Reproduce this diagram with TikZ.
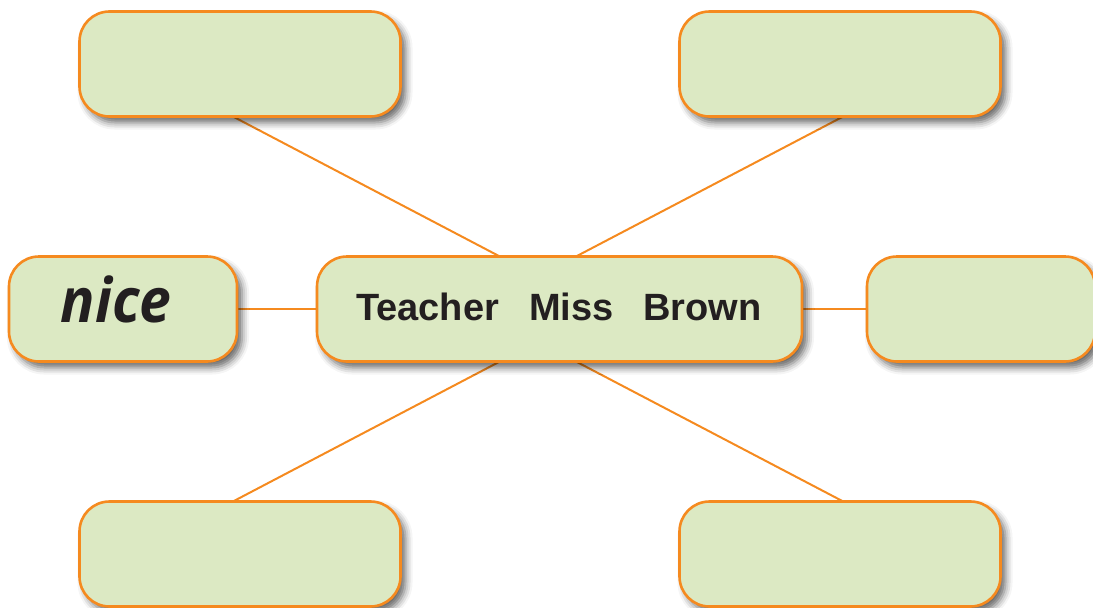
\documentclass[tikz,border=0pt]{standalone}
\usepackage{fontspec}
\usepackage{graphicx}
\setmainfont{Liberation Sans}
\newfontfamily\handfont{Open Sans}
\usetikzlibrary{calc,shadows.blur,backgrounds}
\definecolor{boxorange}{HTML}{F58A1F}
\definecolor{boxgreen}{HTML}{DCE9C3}
\definecolor{ink}{HTML}{231F20}
\tikzset{
  bubble/.style={draw=boxorange, fill=boxgreen, line width=2.6pt, rounded corners=30pt,
    minimum height=105pt, inner sep=0pt, outer sep=0pt,
    blur shadow={shadow xshift=5pt, shadow yshift=-6pt, shadow blur radius=7pt, shadow opacity=60}},
  wide/.style={bubble, minimum width=321pt},
  link/.style={draw=boxorange, line width=2pt},
  label/.style={text=ink, inner sep=0pt, anchor=base}
}
\begin{document}
\begin{tikzpicture}[x=1pt,y=-1pt]
\useasboundingbox (0,0) rectangle (1093,608);
\node[wide] (tl) at (240,64) {};
\node[wide] (tr) at (840,64) {};
\node[wide] (bl) at (240,554) {};
\node[wide] (br) at (840,554) {};
\node[bubble, minimum width=228pt] (lf) at (123,309) {};
\node[bubble, minimum width=228pt] (rt) at (981,309) {};
\node[bubble, minimum width=485pt] (c) at (559.5,309) {};
\node[label] (ctext) at (559,320)
  {\fontsize{38}{42}\selectfont\bfseries Teacher\hspace{30pt}Miss\hspace{30pt}Brown};
\node[label] (nice) at (116,322) {\scalebox{1}[1.08]{\handfont\fontsize{57}{60}\selectfont\bfseries\itshape nice}};
\begin{scope}[on background layer]
\draw[link] ($(tl.south west)!0.478!(tl.south east)$) -- ($(c.north west)!0.377!(c.north east)$);
\draw[link] ($(tr.south west)!0.51!(tr.south east)$) -- ($(c.north west)!0.534!(c.north east)$);
\draw[link] ($(bl.north west)!0.478!(bl.north east)$) -- ($(c.south west)!0.377!(c.south east)$);
\draw[link] ($(br.north west)!0.51!(br.north east)$) -- ($(c.south west)!0.534!(c.south east)$);
\draw[link] (lf.east) -- (c.west);
\draw[link] (c.east) -- (rt.west);
\end{scope}
\end{tikzpicture}
\end{document}
